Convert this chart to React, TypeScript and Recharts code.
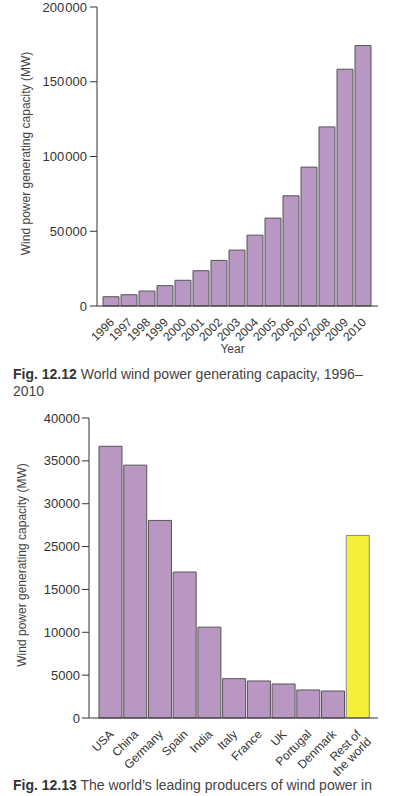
import React from "react";
import { BarChart, Bar, XAxis, YAxis, Cell, Label } from "recharts";

// Fig. 12.12 – world capacity by year (MW)
const YEARS = ["1996", "1997", "1998", "1999", "2000", "2001", "2002", "2003", "2004", "2005", "2006", "2007", "2008", "2009", "2010"];
const CAPACITY_MW = [6200, 7550, 10000, 13600, 17200, 23600, 30500, 37400, 47400, 58800, 73700, 92900, 119800, 158400, 174200];
const CAPACITY_TICKS = [0, 50000, 100000, 150000, 200000];

// Fig. 12.13 – leading producers
const PRODUCERS = ["USA", "China", "Germany", "Spain", "India", "Italy", "France", "UK", "Portugal", "Denmark", "Rest of\nthe world"];
// values on the evenly spaced 5000 MW grid of the figure (its printed labels skip 20000)
const PRODUCER_MW = [31700, 29500, 23050, 17030, 10600, 4590, 4320, 3970, 3270, 3150, 21300];
const PRODUCER_TICKS = [0, 5000, 10000, 15000, 20000, 25000, 30000, 35000];
const PRODUCER_TICK_LABELS = ["0", "5000", "10000", "15000", "25000", "30000", "35000", "40000"];

const FONT = "'Liberation Sans', Arial, sans-serif";
const PURPLE = "#b898c3";
const YELLOW = "#f5ef3a";
const AXIS = "#333";

const yearData = YEARS.map((year, i) => ({ year, mw: CAPACITY_MW[i] }));
const producerData = PRODUCERS.map((name, i) => ({ name, mw: PRODUCER_MW[i] }));

const spaced = (v: number) => {
  const s = String(v);
  return s.length > 3 ? s.slice(0, -3) + "\u200A" + s.slice(-3) : s;
};

const RotTick = (props: any) => {
  const { x, y, payload } = props;
  const lines = String(payload.value).split("\n");
  return (
    <g transform={`translate(${x + 1},${y + 6})`}>
      <text textAnchor="end" transform="rotate(-45)" fill="#333" fontSize={12} fontFamily={FONT}>
        {lines.map((l, i) => (
          <tspan key={i} x={i === 0 ? 0 : 2} dy={i === 0 ? "0.35em" : "1.05em"}>
            {l}
          </tspan>
        ))}
      </text>
    </g>
  );
};

const yTitle = (dx: number, dy: number) => (p: any) => {
  const vb = p.viewBox;
  const cx = vb.x + dx;
  const cy = vb.y + vb.height / 2 + dy;
  return (
    <text x={cx} y={cy} transform={`rotate(-90 ${cx} ${cy})`} textAnchor="middle" dominantBaseline="middle" fill="#444" fontSize={12} fontFamily={FONT}>
      Wind power generating capacity (MW)
    </text>
  );
};

const captionStyle: React.CSSProperties = {
  position: "absolute",
  left: 13,
  fontFamily: FONT,
  fontSize: 14,
  lineHeight: "17px",
  color: "#444",
  whiteSpace: "nowrap",
};

export default function App() {
  const tick = { fill: "#333", fontSize: 13, fontFamily: FONT };
  return (
    <div style={{ position: "absolute", left: 0, top: 0, width: 393, height: 796, background: "#fff", overflow: "hidden" }}>
      <div style={{ position: "absolute", left: 0, top: 0 }}>
        <BarChart width={393} height={360} data={yearData} margin={{ top: 7, right: 15, bottom: 0, left: 0 }} barCategoryGap={1}>
          <XAxis dataKey="year" height={54} interval={0} tickLine={false} stroke={AXIS} padding={{ left: 5, right: 6 }} tick={<RotTick />}>
            <Label content={(p: any) => (
              <text x={p.viewBox.x + p.viewBox.width / 2 - 5} y={p.viewBox.y + 44} textAnchor="middle" dominantBaseline="middle" fill="#444" fontSize={12} fontFamily={FONT}>Year</text>
            )} />
          </XAxis>
          <YAxis width={97} domain={[0, 200000]} ticks={CAPACITY_TICKS} interval={0} tickSize={7} tickMargin={3} stroke={AXIS} tick={tick} tickFormatter={spaced}>
            <Label content={yTitle(27, -3)} />
          </YAxis>
          <Bar dataKey="mw" fill={PURPLE} stroke="#555" strokeWidth={1} isAnimationActive={false} />
        </BarChart>
      </div>
      <div style={{ ...captionStyle, top: 366 }}>
        <b style={{ color: "#333" }}>Fig. 12.12</b> World wind power generating capacity, 1996–<br />2010
      </div>
      <div style={{ position: "absolute", left: 0, top: 400 }}>
        <BarChart width={393} height={390} data={producerData} margin={{ top: 18, right: 15, bottom: 0, left: 0 }} barCategoryGap={1}>
          <XAxis dataKey="name" height={72} interval={0} tickLine={false} stroke={AXIS} padding={{ left: 9, right: 8 }} tick={<RotTick />} />
          <YAxis width={89} domain={[0, 35000]} ticks={PRODUCER_TICKS} interval={0} tickSize={7} tickMargin={2} stroke={AXIS} tick={tick}
            tickFormatter={(v: number) => PRODUCER_TICK_LABELS[PRODUCER_TICKS.indexOf(v)]}>
            <Label content={yTitle(23, -3)} />
          </YAxis>
          <Bar dataKey="mw" isAnimationActive={false} strokeWidth={1}>
            {producerData.map((d, i) => (
              <Cell key={d.name} fill={i === producerData.length - 1 ? YELLOW : PURPLE} stroke={i === producerData.length - 1 ? "#888" : "#555"} />
            ))}
          </Bar>
        </BarChart>
      </div>
      <div style={{ ...captionStyle, top: 777 }}>
        <b style={{ color: "#333" }}>Fig. 12.13</b> The world’s leading producers of wind power in
      </div>
    </div>
  );
}
